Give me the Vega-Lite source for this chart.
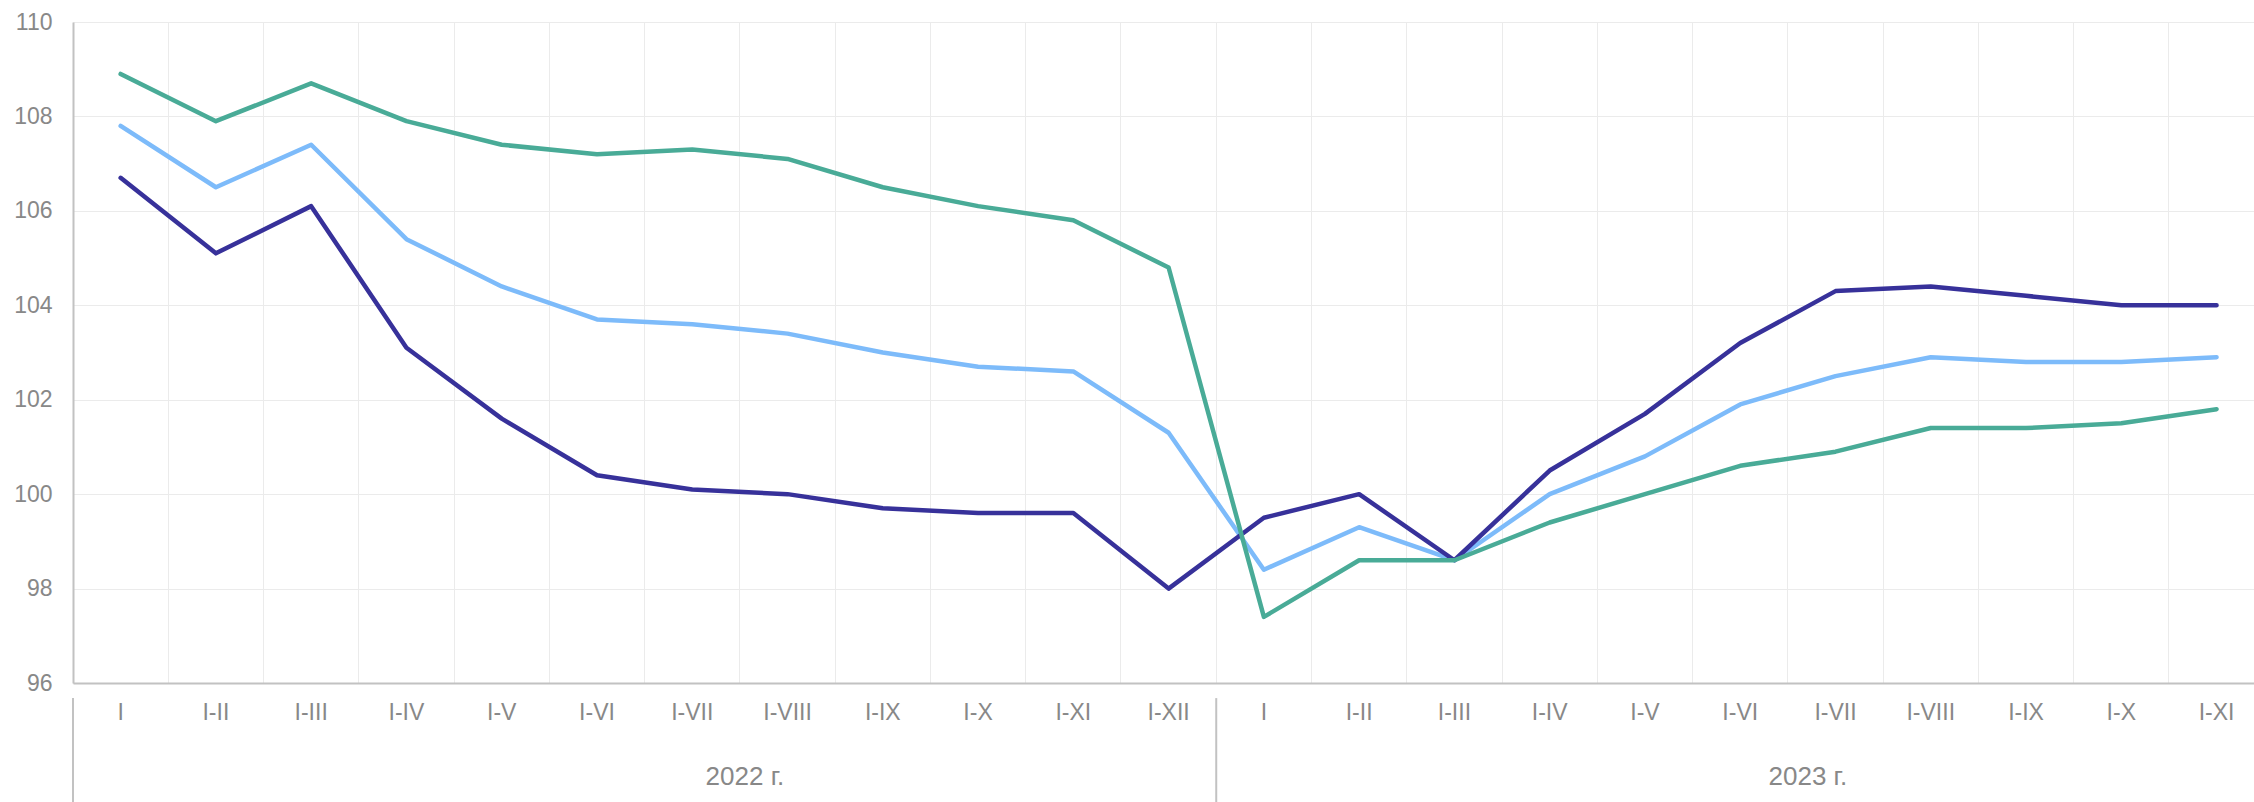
{
  "$schema": "https://vega.github.io/schema/vega-lite/v6.json",
  "autosize": {"type": "none"},
  "padding": {"left": 73, "top": 22, "right": 0, "bottom": 119},
  "width": 2181,
  "height": 661,
  "config": {"view": {"stroke": null}, "font": "Liberation Sans"},
  "datasets": {
    "series": [
      {"k": "2022|I", "s": "series2", "v": 107.8},
      {"k": "2022|I-II", "s": "series2", "v": 106.5},
      {"k": "2022|I-III", "s": "series2", "v": 107.4},
      {"k": "2022|I-IV", "s": "series2", "v": 105.4},
      {"k": "2022|I-V", "s": "series2", "v": 104.4},
      {"k": "2022|I-VI", "s": "series2", "v": 103.7},
      {"k": "2022|I-VII", "s": "series2", "v": 103.6},
      {"k": "2022|I-VIII", "s": "series2", "v": 103.4},
      {"k": "2022|I-IX", "s": "series2", "v": 103.0},
      {"k": "2022|I-X", "s": "series2", "v": 102.7},
      {"k": "2022|I-XI", "s": "series2", "v": 102.6},
      {"k": "2022|I-XII", "s": "series2", "v": 101.3},
      {"k": "2023|I", "s": "series2", "v": 98.4},
      {"k": "2023|I-II", "s": "series2", "v": 99.3},
      {"k": "2023|I-III", "s": "series2", "v": 98.6},
      {"k": "2023|I-IV", "s": "series2", "v": 100.0},
      {"k": "2023|I-V", "s": "series2", "v": 100.8},
      {"k": "2023|I-VI", "s": "series2", "v": 101.9},
      {"k": "2023|I-VII", "s": "series2", "v": 102.5},
      {"k": "2023|I-VIII", "s": "series2", "v": 102.9},
      {"k": "2023|I-IX", "s": "series2", "v": 102.8},
      {"k": "2023|I-X", "s": "series2", "v": 102.8},
      {"k": "2023|I-XI", "s": "series2", "v": 102.9},
      {"k": "2022|I", "s": "series1", "v": 106.7},
      {"k": "2022|I-II", "s": "series1", "v": 105.1},
      {"k": "2022|I-III", "s": "series1", "v": 106.1},
      {"k": "2022|I-IV", "s": "series1", "v": 103.1},
      {"k": "2022|I-V", "s": "series1", "v": 101.6},
      {"k": "2022|I-VI", "s": "series1", "v": 100.4},
      {"k": "2022|I-VII", "s": "series1", "v": 100.1},
      {"k": "2022|I-VIII", "s": "series1", "v": 100.0},
      {"k": "2022|I-IX", "s": "series1", "v": 99.7},
      {"k": "2022|I-X", "s": "series1", "v": 99.6},
      {"k": "2022|I-XI", "s": "series1", "v": 99.6},
      {"k": "2022|I-XII", "s": "series1", "v": 98.0},
      {"k": "2023|I", "s": "series1", "v": 99.5},
      {"k": "2023|I-II", "s": "series1", "v": 100.0},
      {"k": "2023|I-III", "s": "series1", "v": 98.6},
      {"k": "2023|I-IV", "s": "series1", "v": 100.5},
      {"k": "2023|I-V", "s": "series1", "v": 101.7},
      {"k": "2023|I-VI", "s": "series1", "v": 103.2},
      {"k": "2023|I-VII", "s": "series1", "v": 104.3},
      {"k": "2023|I-VIII", "s": "series1", "v": 104.4},
      {"k": "2023|I-IX", "s": "series1", "v": 104.2},
      {"k": "2023|I-X", "s": "series1", "v": 104.0},
      {"k": "2023|I-XI", "s": "series1", "v": 104.0},
      {"k": "2022|I", "s": "series3", "v": 108.9},
      {"k": "2022|I-II", "s": "series3", "v": 107.9},
      {"k": "2022|I-III", "s": "series3", "v": 108.7},
      {"k": "2022|I-IV", "s": "series3", "v": 107.9},
      {"k": "2022|I-V", "s": "series3", "v": 107.4},
      {"k": "2022|I-VI", "s": "series3", "v": 107.2},
      {"k": "2022|I-VII", "s": "series3", "v": 107.3},
      {"k": "2022|I-VIII", "s": "series3", "v": 107.1},
      {"k": "2022|I-IX", "s": "series3", "v": 106.5},
      {"k": "2022|I-X", "s": "series3", "v": 106.1},
      {"k": "2022|I-XI", "s": "series3", "v": 105.8},
      {"k": "2022|I-XII", "s": "series3", "v": 104.8},
      {"k": "2023|I", "s": "series3", "v": 97.4},
      {"k": "2023|I-II", "s": "series3", "v": 98.6},
      {"k": "2023|I-III", "s": "series3", "v": 98.6},
      {"k": "2023|I-IV", "s": "series3", "v": 99.4},
      {"k": "2023|I-V", "s": "series3", "v": 100.0},
      {"k": "2023|I-VI", "s": "series3", "v": 100.6},
      {"k": "2023|I-VII", "s": "series3", "v": 100.9},
      {"k": "2023|I-VIII", "s": "series3", "v": 101.4},
      {"k": "2023|I-IX", "s": "series3", "v": 101.4},
      {"k": "2023|I-X", "s": "series3", "v": 101.5},
      {"k": "2023|I-XI", "s": "series3", "v": 101.8}
    ]
  },
  "layer": [
    {
      "data": {"name": "series"},
      "mark": {"type": "line", "strokeWidth": 4.5, "strokeCap": "round", "strokeJoin": "round"},
      "encoding": {
        "x": {
          "field": "k",
          "type": "ordinal",
          "scale": {
            "type": "band",
            "domain": ["2022|I", "2022|I-II", "2022|I-III", "2022|I-IV", "2022|I-V", "2022|I-VI", "2022|I-VII", "2022|I-VIII", "2022|I-IX", "2022|I-X", "2022|I-XI", "2022|I-XII", "2023|I", "2023|I-II", "2023|I-III", "2023|I-IV", "2023|I-V", "2023|I-VI", "2023|I-VII", "2023|I-VIII", "2023|I-IX", "2023|I-X", "2023|I-XI"],
            "range": [0, 2191.2],
            "paddingInner": 0,
            "paddingOuter": 0
          },
          "axis": {
            "title": null,
            "labelExpr": "split(datum.value, '|')[1]",
            "labelFont": "Liberation Sans",
            "labelFontSize": 23,
            "labelColor": "#888888",
            "labelPadding": 18,
            "labelAngle": 0,
            "ticks": false,
            "tickSize": 0,
            "domainColor": "#c2c2c2",
            "domainWidth": 2,
            "grid": true,
            "gridColor": "#ebebeb",
            "gridWidth": 1,
            "bandPosition": 0
          }
        },
        "y": {
          "field": "v",
          "type": "quantitative",
          "scale": {"domain": [96, 110], "nice": false, "zero": false},
          "axis": {
            "title": null,
            "values": [96, 98, 100, 102, 104, 106, 108, 110],
            "labelFont": "Liberation Sans",
            "labelFontSize": 23,
            "labelColor": "#888888",
            "labelPadding": 21,
            "ticks": false,
            "tickSize": 0,
            "domainColor": "#c2c2c2",
            "domainWidth": 2,
            "grid": true,
            "gridColor": "#ebebeb",
            "gridWidth": 1
          }
        },
        "color": {
          "field": "s",
          "type": "nominal",
          "sort": null,
          "scale": {"domain": ["series1", "series2", "series3"], "range": ["#37319a", "#7dbbfa", "#49ab97"]},
          "legend": null
        }
      }
    },
    {
      "data": {"values": [{"k": "2022|I"}, {"k": "2023|I"}]},
      "mark": {"type": "rule", "color": "#c2c2c2", "strokeWidth": 2},
      "encoding": {
        "x": {"field": "k", "type": "ordinal", "bandPosition": 0},
        "y": {"datum": 95.68, "type": "quantitative"},
        "y2": {"datum": 93.4}
      }
    },
    {
      "data": {"values": [{"k": "2022|I-VIII", "label": "2022 г."}]},
      "mark": {"type": "text", "font": "Liberation Sans", "fontSize": 26, "color": "#888888", "align": "center", "baseline": "middle", "dx": 5},
      "encoding": {
        "x": {"field": "k", "type": "ordinal", "bandPosition": 0},
        "y": {"datum": 94, "type": "quantitative"},
        "text": {"field": "label"}
      }
    },
    {
      "data": {"values": [{"k": "2023|I-VII", "label": "2023 г."}]},
      "mark": {"type": "text", "font": "Liberation Sans", "fontSize": 26, "color": "#888888", "align": "center", "baseline": "middle", "dx": 20},
      "encoding": {
        "x": {"field": "k", "type": "ordinal", "bandPosition": 0},
        "y": {"datum": 94, "type": "quantitative"},
        "text": {"field": "label"}
      }
    }
  ]
}
